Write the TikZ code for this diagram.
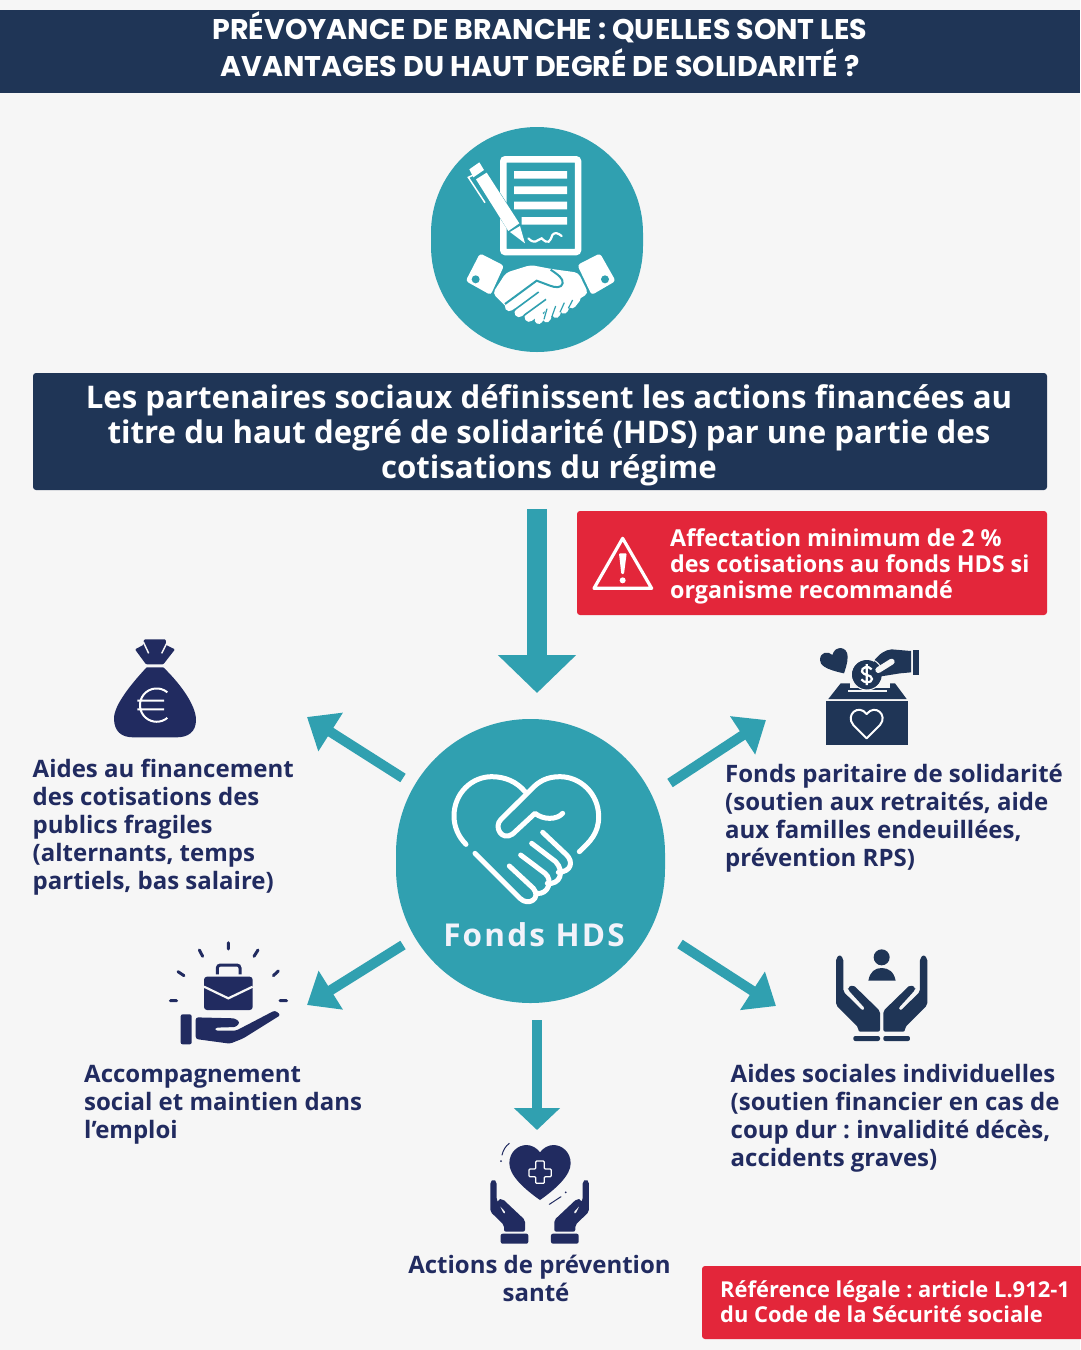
\documentclass[tikz,border=0pt]{standalone}
\usepackage{fontspec}
\usepackage{tikz}
\usetikzlibrary{arrows.meta}
\setmainfont{Open Sans}
\newfontfamily\titlefont{Poppins}
\newfontfamily\fondsfont[LetterSpace=7]{Open Sans}
\definecolor{pagegrey}{HTML}{F6F6F6}
\definecolor{bannerblue}{HTML}{1F3556}
\definecolor{hdsteal}{HTML}{30A0B0}
\definecolor{alertred}{HTML}{E3263A}
\definecolor{labelblue}{HTML}{212B60}
\definecolor{fondswhite}{HTML}{F2F2FA}
\newcommand{\openhand}{(48,55) -- (48,195) -- (115,262) -- (115,275) -- (180,275) -- (180,213) -- (100,135) -- (83,142) -- (85,150) -- (135,205) -- (128,212) -- (70,155) -- (70,55) -- (59,44) -- cycle}
\newcommand{\carehand}{(31,140) -- (31,230) -- (72,270) -- (72,290) -- (135,290) -- (135,255) -- (68,192) -- (54,193) -- (52,205) -- (78,232) -- (72,238) -- (50,195) -- (50,140) -- (40,132) -- cycle}
\frenchspacing
\begin{document}
\begin{tikzpicture}[x=1pt,y=-1pt,
  label/.style={anchor=west,align=left,text=labelblue,inner sep=0pt,font=\bfseries\fontsize{24}{28}\selectfont},
  hdsarrow/.style={draw=hdsteal,line width=10pt,-{Triangle[length=28pt,width=44pt]}},
  bigarrow/.style={draw=hdsteal,line width=20pt,-{Triangle[length=38pt,width=76pt]}},
  roundblob/.style={rectangle,fill=hdsteal,inner sep=0pt},
  zoomed/.style={x=.33333pt,y=-.33333pt}]
  \useasboundingbox (0,0) rectangle (1080,1350);
  \fill[pagegrey] (0,0) rectangle (1080,1350);

  \node[rectangle,fill=bannerblue,minimum width=1080pt,minimum height=83pt,inner sep=0pt] (title) at (540,51.5) {};
  \node[text=white,align=center,inner sep=0pt,font=\titlefont\bfseries\fontsize{28.5}{37}\selectfont] (titletext) at (540,44.5)
    {PRÉVOYANCE DE BRANCHE : QUELLES SONT LES\\AVANTAGES DU HAUT DEGRÉ DE SOLIDARITÉ ?};

  \node[roundblob,minimum width=212pt,minimum height=225pt,rounded corners=105.9pt] (accord) at (537,239.5) {};
  \begin{scope}[shift={(420,120)},zoomed]
    \draw[white,line width=6.5pt,rounded corners=2pt] (250,118) rectangle (474,396);
    \fill[white] (282,153) rectangle (441,176) (282,199) rectangle (441,222) (282,245) rectangle (441,268) (305,291) rectangle (441,314);
    \draw[hdsteal,line width=14pt] (180,165) -- (295,340);
    \fill[white] (148,148) -- (178,127) -- (192,150) -- (160,172) -- cycle;
    \fill[white] (168,178) -- (200,158) -- (298,310) -- (265,333) -- cycle;
    \fill[white] (270,336) -- (300,318) -- (315,370) -- cycle;
    \draw[white,line width=1.5pt] (160,165) -- (145,172) -- (195,248);
    \draw[white,line width=2.2pt,line cap=round] (325,355) .. controls (345,375) and (350,360) .. (365,355) .. controls (385,375) and (390,365) .. (397,345) .. controls (405,335) and (415,340) .. (425,348);
    \fill[white,rounded corners=3pt] (180,400) -- (252,437) -- (212,525) -- (137,483) -- cycle;
    \fill[white,rounded corners=3pt] (540,400) -- (472,435) -- (515,525) -- (587,483) -- cycle;
    \fill[hdsteal] (167,478) circle[radius=12] (555,478) circle[radius=12];
    \fill[white,rounded corners=4pt] (258,458) -- (332,435) -- (395,447) -- (475,458) -- (505,520) -- (465,545) -- (400,570) -- (330,575) -- (258,560) -- (250,552) -- (218,520) -- cycle;
    \draw[white,line width=9pt,line cap=round] (268,560) -- (345,503) (297,578) -- (365,528) (327,592) -- (390,545);
    \draw[white,line width=8pt,line cap=round] (356,600) -- (362,590) (380,595) -- (392,565) (408,582) -- (420,552) (432,569) -- (446,540) (456,553) -- (470,535);
    \draw[hdsteal,line width=2pt] (392,449) .. controls (415,465) and (430,475) .. (428,490) .. controls (425,505) and (405,503) .. (390,497) -- (350,482) -- (255,552);
    \draw[hdsteal,line width=1.6pt] (283,570) -- (356,516) (312,586) -- (378,538);
    \draw[hdsteal,line width=1.2pt] (372,598) -- (381,566) (395,592) -- (407,558) (420,577) -- (433,548) (445,565) -- (458,540);
  \end{scope}

  \node[rectangle,fill=bannerblue,rounded corners=3pt,minimum width=1014pt,minimum height=117pt,inner sep=0pt] (partners) at (540,431.5) {};
  \node[text=white,align=center,inner sep=0pt,font=\bfseries\fontsize{31.2}{35}\selectfont] (partnerstext) at (549,435)
    {Les partenaires sociaux définissent les actions financées au\\titre du haut degré de solidarité (HDS) par une partie des\\cotisations du régime};

  \node[rectangle,fill=alertred,rounded corners=3pt,minimum width=470pt,minimum height=104pt,inner sep=0pt] (minimum) at (812,563) {};
  \begin{scope}[shift={(570,505)},zoomed]
    \draw[white,line width=3.2pt,line join=round] (158,100) -- (245,250) -- (72,250) -- cycle;
    \fill[white,rounded corners=1pt] (147,145) -- (170,145) -- (162,207) -- (154,207) -- cycle;
    \fill[white] (158,226) circle[radius=9];
  \end{scope}
  \node[anchor=west,align=left,text=white,inner sep=0pt,font=\bfseries\fontsize{23.3}{26}\selectfont] (minimumtext) at (670,566.5)
    {Affectation minimum de 2 \%\\des cotisations au fonds HDS si\\organisme recommandé};

  \coordinate (mainfrom) at (537,509);
  \coordinate (mainto) at (537,693);
  \draw[bigarrow] (mainfrom) -- (mainto);

  \node[roundblob,minimum width=269pt,minimum height=284pt,rounded corners=134.4pt] (hds) at (530.5,861) {};
  \begin{scope}[shift={(390,710)},zoomed]
    \draw[white,line width=5pt,line cap=round,line join=round] (228,403) .. controls (205,380) and (192,350) .. (192,318) .. controls (192,250) and (245,200) .. (305,200) .. controls (345,200) and (380,215) .. (405,245);
    \draw[white,line width=5pt,line cap=round,line join=round] (568,425) .. controls (600,395) and (626,370) .. (626,320) .. controls (626,250) and (570,200) .. (510,200) .. controls (470,200) and (445,215) .. (425,237) -- (333,328) .. controls (310,350) and (335,395) .. (368,372) -- (435,310) .. controls (460,330) and (500,330) .. (518,310);
    \draw[white,line width=5pt,line cap=round,line join=round] (255,430) -- (390,565) .. controls (415,590) and (455,565) .. (430,535) -- (358,468);
    \draw[white,line width=5pt,line cap=round,line join=round] (440,550) .. controls (475,555) and (490,510) .. (465,490) -- (392,435);
    \draw[white,line width=5pt,line cap=round,line join=round] (472,520) .. controls (510,525) and (525,485) .. (497,455) -- (425,400);
    \draw[white,line width=5pt,line cap=round,line join=round] (505,487) .. controls (545,485) and (550,455) .. (530,435) -- (458,367);
  \end{scope}
  \node[text=fondswhite,inner sep=0pt,font=\fondsfont\bfseries\fontsize{31.5}{36}\selectfont] (hdstext) at (534,935) {Fonds HDS};

  \coordinate (aidesfrom) at (403,778);
  \coordinate (aidesto) at (307,717);
  \draw[hdsarrow] (aidesfrom) -- (aidesto);
  \coordinate (fondsfrom) at (670,783);
  \coordinate (fondsto) at (766,720);
  \draw[hdsarrow] (fondsfrom) -- (fondsto);
  \coordinate (emploifrom) at (403,945);
  \coordinate (emploito) at (307,1005);
  \draw[hdsarrow] (emploifrom) -- (emploito);
  \coordinate (socialesfrom) at (680,944);
  \coordinate (socialesto) at (776,1006);
  \draw[hdsarrow] (socialesfrom) -- (socialesto);
  \coordinate (santefrom) at (537,1020);
  \coordinate (santeto) at (537,1130);
  \draw[hdsarrow,-{Triangle[length=22pt,width=45pt]}] (santefrom) -- (santeto);

  \begin{scope}[shift={(100,630)},zoomed]
    \fill[labelblue] (140,112) -- (190,112) .. controls (240,160) and (288,225) .. (288,270) .. controls (288,305) and (265,322) .. (230,322) -- (100,322) .. controls (65,322) and (42,305) .. (42,265) .. controls (42,225) and (95,160) .. (140,112) -- cycle;
    \fill[labelblue,rounded corners=1pt] (105,58) -- (130,45) -- (132,28) -- (197,28) -- (198,45) -- (225,58) -- (190,103) -- (138,103) -- cycle;
    \draw[pagegrey,line width=1.5pt] (130,36) -- (146,70) (200,40) -- (185,70);
    \draw[white,line width=2pt] (202,187) arc[start angle=-50,end angle=-310,radius=50] (112,212) -- (192,212) (112,238) -- (192,238);
  \end{scope}
  \node[label] (aides) at (32.5,827.5) {Aides au financement\\des cotisations des\\publics fragiles\\(alternants, temps\\partiels, bas salaire)};

  \begin{scope}[shift={(800,640)},zoomed]
    \fill[bannerblue] (132,100) .. controls (75,88) and (60,75) .. (60,60) .. controls (60,35) and (85,32) .. (97,45) .. controls (105,15) and (143,18) .. (143,50) .. controls (143,70) and (135,90) .. (132,100) -- cycle;
    \fill[bannerblue] (78,182) rectangle (325,315);
    \fill[bannerblue] (85,177) -- (122,130) -- (285,130) -- (320,177) -- cycle;
    \fill[pagegrey] (150,120) rectangle (270,145);
    \fill[bannerblue] (222,62) .. controls (240,40) and (255,30) .. (275,28) -- (333,33) -- (333,97) -- (300,100) -- (225,112) -- cycle;
    \fill[bannerblue] (340,30) rectangle (358,104);
    \fill[bannerblue] (200,105) circle[radius=45];
    \draw[pagegrey,line width=1pt] (200,105) ++(45,-18) arc[start angle=-20,end angle=-340,radius=47];
    \draw[pagegrey,line width=6pt,line cap=round] (235,90) -- (275,65);
    \draw[white,line width=2.2pt] (215,88) .. controls (205,75) and (183,82) .. (186,95) .. controls (190,108) and (215,102) .. (216,117) .. controls (215,130) and (192,130) .. (184,118) (200,72) -- (200,135);
    \fill[pagegrey] (143,150) rectangle (260,156);
    \draw[white,line width=2pt,line join=round] (200,295) -- (160,255) .. controls (135,225) and (175,190) .. (200,222) .. controls (225,190) and (265,225) .. (240,255) -- cycle;
  \end{scope}
  \node[label] (fonds) at (725,818.5) {Fonds paritaire de solidarité\\(soutien aux retraités, aide\\aux familles endeuillées,\\prévention RPS)};

  \begin{scope}[shift={(160,935)},zoomed]
    \draw[labelblue,line width=3pt,line cap=round] (205,23) -- (205,42) (118,45) -- (128,64) (54,110) -- (72,122) (31,197) -- (50,197) (294,45) -- (282,64) (355,108) -- (340,122) (360,197) -- (380,197);
    \draw[labelblue,line width=3pt,rounded corners=3pt] (172,118) -- (172,90) -- (240,90) -- (240,118);
    \fill[labelblue,rounded corners=3pt] (132,125) rectangle (278,225);
    \draw[pagegrey,line width=2.2pt] (132,155) -- (205,190) -- (278,155);
    \fill[labelblue,rounded corners=2pt] (62,238) rectangle (95,328);
    \fill[labelblue,rounded corners=2.5pt] (107,247) -- (225,250) -- (240,262) -- (228,276) -- (165,278) -- (165,287) -- (228,287) -- (345,226) -- (362,240) -- (250,310) -- (210,326) -- (107,312) -- cycle;
  \end{scope}
  \node[label] (emploi) at (84,1104.5) {Accompagnement\\social et maintien dans\\l’emploi};

  \begin{scope}[shift={(820,940)},zoomed]
    \fill[bannerblue] (185,52) circle[radius=24];
    \fill[bannerblue] (145,122) .. controls (150,95) and (165,84) .. (185,84) .. controls (205,84) and (222,95) .. (227,122) -- cycle;
    \foreach \m/\d in {1/0pt,-1/123.3pt}
      \fill[bannerblue,xshift=\d,xscale=\m,rounded corners=2pt] \openhand (100,288) rectangle (180,303);
  \end{scope}
  \node[label] (sociales) at (730.5,1118.5) {Aides sociales individuelles\\(soutien financier en cas de\\coup dur : invalidité décès,\\accidents graves)};

  \begin{scope}[shift={(480,1135)},zoomed]
    \fill[labelblue] (180,195) .. controls (130,160) and (88,120) .. (88,85) .. controls (88,50) and (115,30) .. (140,30) .. controls (155,30) and (172,40) .. (180,52) .. controls (188,40) and (205,30) .. (220,30) .. controls (245,30) and (272,50) .. (272,85) .. controls (272,120) and (230,160) .. (180,195) -- cycle;
    \draw[white,line width=1.2pt,rounded corners=1pt] (167,78) -- (193,78) -- (193,102) -- (214,102) -- (214,125) -- (193,125) -- (193,145) -- (167,145) -- (167,125) -- (147,125) -- (147,102) -- (167,102) -- cycle;
    \draw[labelblue,line width=1pt,line cap=round] (88,25) .. controls (75,35) and (70,45) .. (66,60) (208,208) -- (243,185);
    \fill[labelblue] (63,78) circle[radius=3] (257,172) circle[radius=3];
    \foreach \m/\d in {1/0pt,-1/119.3pt}
      \fill[labelblue,xshift=\d,xscale=\m,rounded corners=2pt] \carehand (62,296) rectangle (145,326);
  \end{scope}
  \node[label,anchor=center,align=center] (sante) at (539.5,1278) {Actions de prévention\\santé\hspace*{7pt}};

  \node[rectangle,fill=alertred,rounded corners=3pt,minimum width=388pt,minimum height=73pt,inner sep=0pt] (legal) at (896,1302.5) {};
  \node[anchor=west,align=left,text=white,inner sep=0pt,font=\bfseries\fontsize{21.9}{25}\selectfont] (legaltext) at (720,1302)
    {Référence légale : article L.912-1\\du Code de la Sécurité sociale};
\end{tikzpicture}
\end{document}
